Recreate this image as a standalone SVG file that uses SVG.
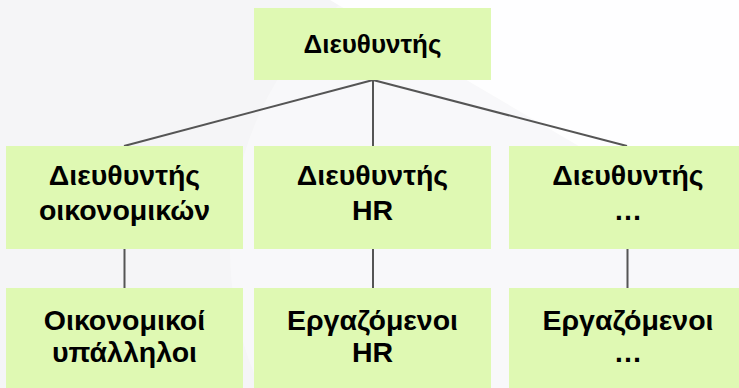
<svg xmlns="http://www.w3.org/2000/svg" width="739" height="388" viewBox="0 0 739 388">
  <style>
    .box { fill: #dff9b3; }
    .t { font-family: "Liberation Sans", Arial, sans-serif; font-weight: bold; fill: #000; text-anchor: middle; }
    .t1 { font-size: 26px; }
    .t2 { font-size: 28.5px; }
    .conn { stroke: #555555; stroke-width: 2; fill: none; }
  </style>
  <g id="background">
    <rect x="0" y="0" width="739" height="388" fill="#f5f5f7"/>
    <polygon points="330,0 739,0 739,240" fill="#ffffff" opacity="0.9"/>
    <circle cx="560" cy="250" r="330" fill="#ffffff" opacity="0.35"/>
  </g>
  <g id="connectors">
    <line class="conn" x1="373" y1="80" x2="124" y2="146"/>
    <line class="conn" x1="373" y1="80" x2="373" y2="146"/>
    <line class="conn" x1="373" y1="80" x2="627" y2="146"/>
    <line class="conn" x1="124.5" y1="249" x2="124.5" y2="288"/>
    <line class="conn" x1="373" y1="249" x2="373" y2="288"/>
    <line class="conn" x1="627.5" y1="249" x2="627.5" y2="288"/>
  </g>
  <g id="n-top">
    <rect class="box" x="254" y="8" width="237" height="72"/>
    <text class="t t1" x="372.5" y="53">Διευθυντής</text>
  </g>
  <g id="n-fin">
    <rect class="box" x="6" y="146" width="237" height="103"/>
    <text class="t t2" x="124.5" y="185">Διευθυντής</text>
    <text class="t t2" x="124.5" y="220">οικονομικών</text>
  </g>
  <g id="n-hr">
    <rect class="box" x="254" y="146" width="237" height="103"/>
    <text class="t t2" x="372.5" y="185">Διευθυντής</text>
    <text class="t t2" x="372.5" y="220">HR</text>
  </g>
  <g id="n-other">
    <rect class="box" x="509" y="146" width="237" height="103"/>
    <text class="t t2" x="628" y="185">Διευθυντής</text>
    <text class="t t2" x="628" y="220">…</text>
  </g>
  <g id="n-fin-staff">
    <rect class="box" x="6" y="288" width="237" height="105"/>
    <text class="t t2" x="124.5" y="330">Οικονομικοί</text>
    <text class="t t2" x="124.5" y="362">υπάλληλοι</text>
  </g>
  <g id="n-hr-staff">
    <rect class="box" x="254" y="288" width="237" height="105"/>
    <text class="t t2" x="372.5" y="330">Εργαζόμενοι</text>
    <text class="t t2" x="372.5" y="362">HR</text>
  </g>
  <g id="n-other-staff">
    <rect class="box" x="509" y="288" width="237" height="105"/>
    <text class="t t2" x="628" y="330">Εργαζόμενοι</text>
    <text class="t t2" x="628" y="362">…</text>
  </g>
</svg>
